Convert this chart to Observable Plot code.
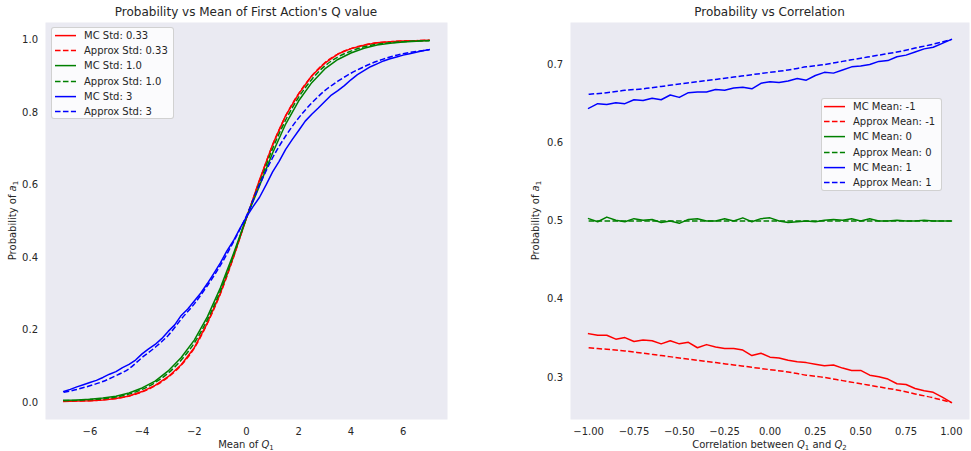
<!DOCTYPE html>
<html><head><meta charset="utf-8">
<script src="https://cdn.jsdelivr.net/npm/d3@7"></script>
<script src="https://cdn.jsdelivr.net/npm/@observablehq/plot@0.6"></script>
<style>
body{margin:0;background:#fff;font-family:"DejaVu Sans",sans-serif;}
#wrap{position:relative;width:971px;height:451px;overflow:hidden;background:#fff}
.panel{position:absolute;top:0}
.legend{position:absolute;background:rgba(255,255,255,0.8);border:1px solid rgba(204,204,204,0.9);border-radius:3px;box-sizing:border-box;font-size:10px;color:#262626}
.row{position:absolute;left:0;right:0;height:15.2px}
.row svg{position:absolute;top:0}
.row span{position:absolute;top:0;line-height:15.2px;white-space:nowrap}
</style></head>
<body><div id="wrap"></div>
<script>
// ---------- Left panel data ----------
const meanX = [-7,-6.5,-6,-5.5,-5,-4.5,-4,-3.5,-3,-2.5,-2,-1.5,-1,-0.5,0,0.5,1,1.5,2,2.5,3,3.5,4,4.5,5,5.5,6,6.5,7];
const meanXFine = [-7,-6.75,-6.5,-6.25,-6,-5.75,-5.5,-5.25,-5,-4.75,-4.5,-4.25,-4,-3.75,-3.5,-3.25,-3,-2.75,-2.5,-2.25,-2,-1.75,-1.5,-1.25,-1,-0.75,-0.5,-0.25,0,0.25,0.5,0.75,1,1.25,1.5,1.75,2,2.25,2.5,2.75,3,3.25,3.5,3.75,4,4.25,4.5,4.75,5,5.25,5.5,5.75,6,6.25,6.5,6.75,7];
const mcStd033 = [0.003,0.004,0.005,0.007,0.011,0.018,0.030,0.047,0.071,0.104,0.151,0.219,0.301,0.401,0.509,0.614,0.711,0.791,0.851,0.901,0.936,0.961,0.976,0.985,0.992,0.995,0.997,0.998,0.999];
const approxStd033 = [0.003,0.004,0.005,0.007,0.011,0.018,0.029,0.046,0.070,0.103,0.150,0.218,0.300,0.400,0.510,0.612,0.710,0.790,0.852,0.900,0.937,0.961,0.976,0.986,0.992,0.995,0.997,0.998,0.999];
const mcStd10 = [0.006,0.007,0.009,0.012,0.017,0.026,0.040,0.059,0.087,0.124,0.172,0.236,0.316,0.410,0.510,0.598,0.688,0.768,0.832,0.882,0.920,0.946,0.964,0.977,0.986,0.991,0.994,0.996,0.998];
const approxStd10 = [0.005,0.006,0.008,0.010,0.015,0.023,0.036,0.055,0.081,0.117,0.164,0.228,0.308,0.405,0.510,0.605,0.700,0.779,0.842,0.891,0.928,0.953,0.969,0.981,0.988,0.992,0.995,0.997,0.998];
const mcStd3 = [0.030,0.036,0.043,0.049,0.055,0.061,0.069,0.078,0.085,0.096,0.105,0.117,0.134,0.148,0.160,0.176,0.196,0.214,0.240,0.258,0.280,0.302,0.328,0.356,0.385,0.418,0.446,0.480,0.512,0.540,0.566,0.600,0.636,0.665,0.698,0.725,0.750,0.776,0.795,0.812,0.830,0.848,0.860,0.874,0.890,0.904,0.915,0.926,0.934,0.942,0.948,0.953,0.958,0.962,0.966,0.970,0.973];
const approxStd3 = [0.028,0.036,0.046,0.058,0.074,0.093,0.124,0.152,0.185,0.230,0.272,0.322,0.378,0.443,0.515,0.600,0.675,0.735,0.785,0.826,0.860,0.886,0.908,0.926,0.941,0.953,0.962,0.968,0.973];
const stdKeys = ["0.33","1.0","3"];
const leftLabels = ["MC Std: 0.33","Approx Std: 0.33","MC Std: 1.0","Approx Std: 1.0","MC Std: 3","Approx Std: 3"];
const leftXTicks = [-6,-4,-2,0,2,4,6];
const leftYTicks = [0,0.2,0.4,0.6,0.8,1.0];

// ---------- Right panel data ----------
const corrX = [-1,-0.95,-0.9,-0.85,-0.8,-0.75,-0.7,-0.65,-0.6,-0.55,-0.5,-0.45,-0.4,-0.35,-0.3,-0.25,-0.2,-0.15,-0.1,-0.05,0,0.05,0.1,0.15,0.2,0.25,0.3,0.35,0.4,0.45,0.5,0.55,0.6,0.65,0.7,0.75,0.8,0.85,0.9,0.95,1];
const corrXCoarse = [-1,-0.9,-0.8,-0.7,-0.6,-0.5,-0.4,-0.3,-0.2,-0.1,0,0.1,0.2,0.3,0.4,0.5,0.6,0.7,0.8,0.9,1];
const mcMeanNeg1 = [0.356,0.354,0.354,0.349,0.351,0.346,0.348,0.347,0.343,0.347,0.343,0.345,0.338,0.342,0.339,0.337,0.337,0.335,0.328,0.331,0.326,0.325,0.322,0.320,0.319,0.317,0.315,0.316,0.312,0.309,0.309,0.303,0.301,0.298,0.292,0.291,0.286,0.283,0.281,0.275,0.268];
const approxMeanNeg1 = [0.338,0.336,0.334,0.331,0.328,0.325,0.322,0.319,0.316,0.313,0.310,0.307,0.303,0.300,0.296,0.292,0.288,0.284,0.279,0.274,0.268];
const mcMean0 = [0.503,0.499,0.505,0.501,0.499,0.503,0.501,0.502,0.498,0.500,0.497,0.502,0.503,0.500,0.500,0.503,0.500,0.504,0.499,0.503,0.504,0.500,0.498,0.499,0.500,0.499,0.501,0.502,0.501,0.503,0.500,0.503,0.500,0.500,0.501,0.500,0.500,0.501,0.500,0.500,0.500];
const approxMean0 = [0.5,0.5,0.5,0.5,0.5,0.5,0.5,0.5,0.5,0.5,0.5,0.5,0.5,0.5,0.5,0.5,0.5,0.5,0.5,0.5,0.5];
const mcMean1 = [0.644,0.650,0.649,0.651,0.650,0.655,0.654,0.657,0.655,0.661,0.658,0.664,0.665,0.665,0.668,0.667,0.670,0.671,0.669,0.676,0.678,0.677,0.679,0.682,0.680,0.686,0.690,0.689,0.693,0.697,0.698,0.700,0.704,0.705,0.710,0.712,0.716,0.720,0.722,0.727,0.732];
const approxMean1 = [0.662,0.664,0.667,0.669,0.672,0.675,0.678,0.681,0.684,0.687,0.690,0.693,0.697,0.700,0.704,0.708,0.712,0.716,0.721,0.726,0.732];
const meanKeys = ["-1","0","1"];
const rightLabels = ["MC Mean: -1","Approx Mean: -1","MC Mean: 0","Approx Mean: 0","MC Mean: 1","Approx Mean: 1"];
const rightXTicks = [-1,-0.75,-0.5,-0.25,0,0.25,0.5,0.75,1];
const rightYTicks = [0.3,0.4,0.5,0.6,0.7];

const seriesColors = ["#ff0000","#008000","#0000ff"];
const DASH = "5.55,2.4";
const INK = "#262626";

function rows(xs, ys, grp, kind) { return xs.map((x, i) => ({x, y: ys[i], grp, kind})); }

const leftSeries = [
  rows(meanX, mcStd033, "0.33", "mc"), rows(meanX, approxStd033, "0.33", "approx"),
  rows(meanX, mcStd10, "1.0", "mc"), rows(meanX, approxStd10, "1.0", "approx"),
  rows(meanXFine, mcStd3, "3", "mc"), rows(meanX, approxStd3, "3", "approx")
];
const rightSeries = [
  rows(corrX, mcMeanNeg1, "-1", "mc"), rows(corrXCoarse, approxMeanNeg1, "-1", "approx"),
  rows(corrX, mcMean0, "0", "mc"), rows(corrXCoarse, approxMean0, "0", "approx"),
  rows(corrX, mcMean1, "1", "mc"), rows(corrXCoarse, approxMean1, "1", "approx")
];

function lineMarks(series) {
  return series.map(d => {
    const dashed = d[0].kind === "approx";
    const o = {x: "x", y: "y", stroke: "grp", strokeWidth: 1.5, strokeLinejoin: "round",
      strokeLinecap: dashed ? "butt" : "square"};
    if (dashed) o.strokeDasharray = DASH;
    if (dashed) o.curve = "monotone-x";
    return Plot.line(d, o);
  });
}

const baseStyle = {background: "transparent", fontFamily: "DejaVu Sans", fontSize: "10px", color: INK, overflow: "visible"};
const fmtInt = d => (d < 0 ? "\u2212" : "") + Math.abs(d);

const W1 = 460, W2 = 491, H = 451;
const left = Plot.plot({
  width: W1, height: H, marginLeft: 45, marginRight: 13, marginTop: 22, marginBottom: 32,
  x: {domain: [-7.7, 7.7]}, y: {domain: [-0.047, 1.048]},
  color: {domain: stdKeys, range: seriesColors},
  style: baseStyle,
  marks: [
    Plot.frame({fill: "#EAEAF2", stroke: "none"}),
    Plot.axisX({ticks: leftXTicks, tickSize: 0, tickPadding: 8.5, tickFormat: fmtInt, label: null, fontSize: 10}),
    Plot.axisY({ticks: leftYTicks, tickSize: 0, tickPadding: 7.5, tickFormat: d3.format(".1f"), label: null, fontSize: 10}),
    ...lineMarks(leftSeries)
  ]
});
const right = Plot.plot({
  width: W2, height: H, marginLeft: 90, marginRight: 2, marginTop: 22, marginBottom: 32,
  x: {domain: [-1.1, 1.1]}, y: {domain: [0.2463, 0.7537]},
  color: {domain: meanKeys, range: seriesColors},
  style: baseStyle,
  marks: [
    Plot.frame({fill: "#EAEAF2", stroke: "none"}),
    Plot.axisX({ticks: rightXTicks, tickSize: 0, tickPadding: 8.5, tickFormat: d3.format(".2f"), label: null, fontSize: 10}),
    Plot.axisY({ticks: rightYTicks, tickSize: 0, tickPadding: 7.5, tickFormat: d3.format(".1f"), label: null, fontSize: 10}),
    ...lineMarks(rightSeries)
  ]
});

const wrap = document.getElementById("wrap");
left.classList.add("panel"); left.style.left = "0px";
right.classList.add("panel"); right.style.left = "480px";
wrap.appendChild(left); wrap.appendChild(right);

// text helpers: parts = [[text, "n"|"i"|"sub"]]
function addText(svg, x, y, parts, size, rotate) {
  const t = d3.select(svg).append("text")
    .attr("text-anchor", "middle").attr("fill", INK)
    .attr("font-family", "DejaVu Sans").attr("font-size", size);
  if (rotate) t.attr("transform", `translate(${x},${y}) rotate(-90)`);
  else t.attr("x", x).attr("y", y);
  let shift = 0;
  parts.forEach(([s, k]) => {
    const ts = t.append("tspan").text(s);
    if (k === "i") ts.attr("font-style", "italic");
    if (k === "sub") { ts.attr("font-size", size * 0.7).attr("dy", 2.2 - shift); shift = 2.2; }
    else if (shift) { ts.attr("dy", -shift); shift = 0; }
  });
}
function center(svg, ml, mr, w) { return (ml + (w - mr)) / 2; }
const cL = center(left, 45, 13, W1), cR = center(right, 90, 2, W2);
addText(left, cL, 15.5, [["Probability vs Mean of First Action's Q value", "n"]], 12);
addText(right, cR, 15.5, [["Probability vs Correlation", "n"]], 12);
addText(left, cL, 447.5, [["Mean of ", "n"], ["Q", "i"], ["1", "sub"]], 10);
addText(right, cR, 447.5, [["Correlation between ", "n"], ["Q", "i"], ["1", "sub"], [" and ", "n"], ["Q", "i"], ["2", "sub"]], 10);
const yMid = (22 + (H - 32)) / 2;
addText(left, 15.5, yMid, [["Probability of ", "n"], ["a", "i"], ["1", "sub"]], 10, true);
addText(right, 59, yMid, [["Probability of ", "n"], ["a", "i"], ["1", "sub"]], 10, true);

// legends
function legend(labels, box, swX, swW, textX) {
  const div = document.createElement("div");
  div.className = "legend";
  Object.assign(div.style, {left: box[0] + "px", top: box[1] + "px", width: box[2] + "px", height: box[3] + "px"});
  labels.forEach((lab, i) => {
    const r = document.createElement("div");
    r.className = "row"; r.style.top = (i * 15.2) + "px";
    const color = seriesColors[Math.floor(i / 2)];
    const dashed = i % 2 === 1;
    r.innerHTML = `<svg width="${swW + 4}" height="15" style="left:${swX - 2}px"><line x1="2" x2="${swW + 2}" y1="7.6" y2="7.6" stroke="${color}" stroke-width="1.5" ${dashed ? `stroke-dasharray="${DASH}"` : ""}/></svg>`;
    const sp = document.createElement("span");
    sp.style.left = textX + "px"; sp.textContent = lab;
    r.appendChild(sp);
    div.appendChild(r);
  });
  wrap.appendChild(div);
}
legend(leftLabels, [51, 27, 123, 92], 3, 21, 32);
legend(rightLabels, [821, 98, 121, 93], 2, 21, 31);
</script>
</body></html>
